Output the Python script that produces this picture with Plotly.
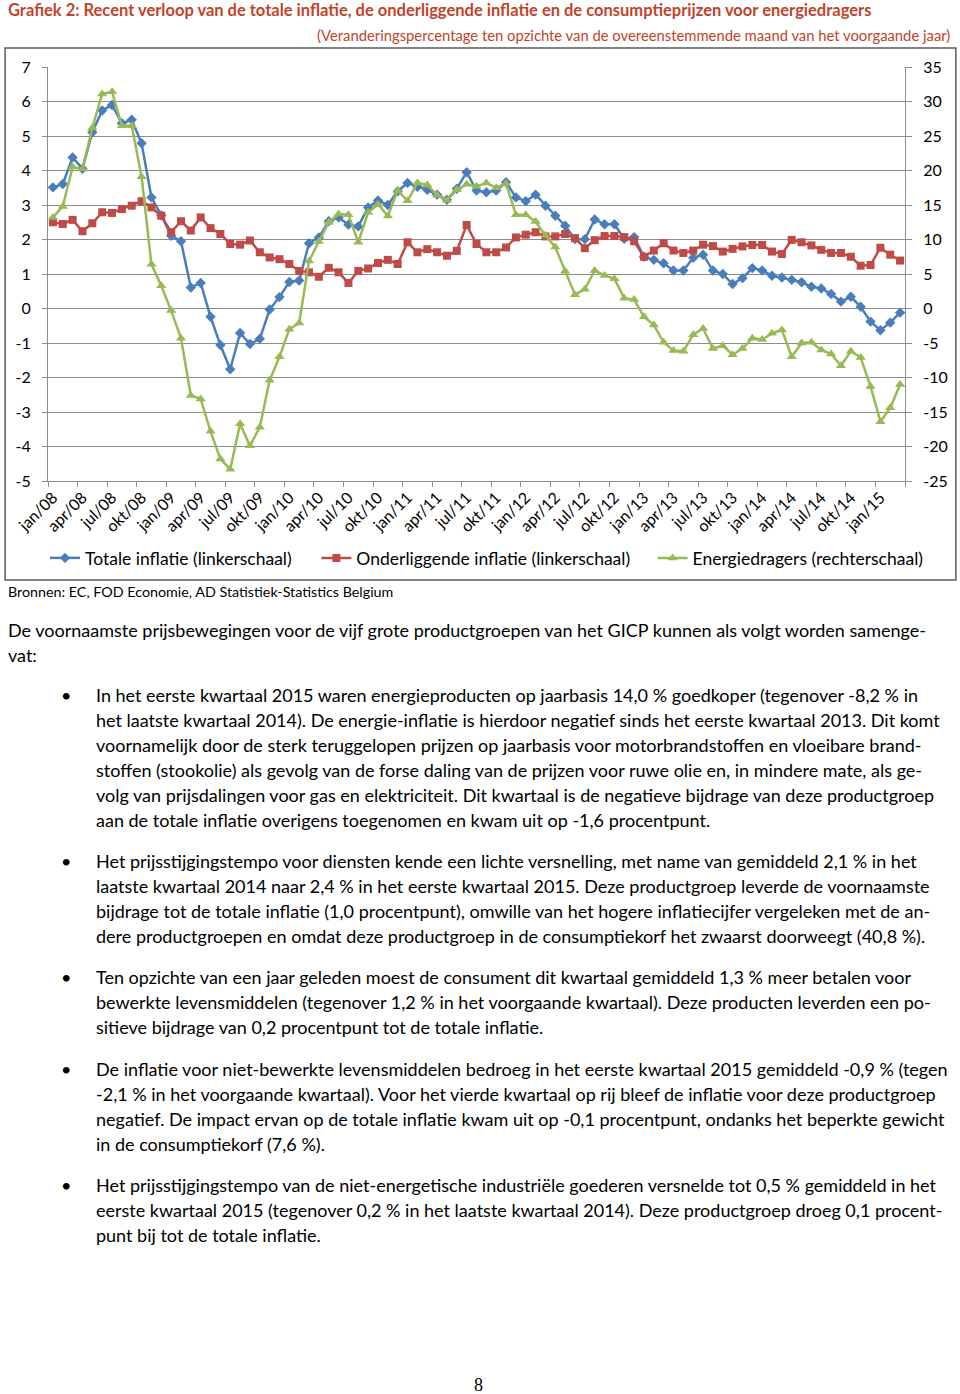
import plotly.graph_objects as go

# ---------------- data ----------------
maanden_nl = ["jan", "feb", "mrt", "apr", "mei", "jun", "jul", "aug", "sep", "okt", "nov", "dec"]
months = [f"{maanden_nl[m]}/{y:02d}" for y in range(8, 16) for m in range(12)][:87]

tick_labels = ["jan/08", "apr/08", "jul/08", "okt/08", "jan/09", "apr/09", "jul/09", "okt/09",
               "jan/10", "apr/10", "jul/10", "okt/10", "jan/11", "apr/11", "jul/11", "okt/11",
               "jan/12", "apr/12", "jul/12", "okt/12", "jan/13", "apr/13", "jul/13", "okt/13",
               "jan/14", "apr/14", "jul/14", "okt/14", "jan/15"]

totale_inflatie = [3.51, 3.61, 4.38, 4.05, 5.11, 5.74, 5.90, 5.37, 5.47, 4.79, 3.22, 2.70,
                   2.11, 1.95, 0.61, 0.74, -0.24, -1.06, -1.76, -0.71, -1.03, -0.88, -0.03, 0.33,
                   0.77, 0.81, 1.89, 2.06, 2.53, 2.64, 2.43, 2.38, 2.93, 3.13, 3.00, 3.40,
                   3.64, 3.53, 3.44, 3.30, 3.15, 3.47, 3.95, 3.42, 3.37, 3.42, 3.66, 3.22,
                   3.11, 3.30, 2.98, 2.69, 2.40, 2.01, 2.01, 2.58, 2.44, 2.44, 2.02, 2.07,
                   1.50, 1.41, 1.31, 1.10, 1.10, 1.47, 1.56, 1.10, 1.00, 0.71, 0.88, 1.17,
                   1.10, 0.95, 0.90, 0.83, 0.76, 0.63, 0.58, 0.42, 0.20, 0.34, 0.05, -0.38,
                   -0.63, -0.41, -0.12]

onderliggende_inflatie = [2.50, 2.45, 2.57, 2.24, 2.47, 2.79, 2.77, 2.88, 2.98, 3.11, 2.93, 2.69,
                          2.21, 2.53, 2.26, 2.64, 2.33, 2.16, 1.87, 1.85, 1.97, 1.63, 1.48, 1.43,
                          1.29, 1.09, 1.05, 0.92, 1.18, 1.05, 0.74, 1.09, 1.16, 1.32, 1.41, 1.29,
                          1.92, 1.63, 1.72, 1.63, 1.53, 1.67, 2.42, 1.87, 1.63, 1.63, 1.77, 2.06,
                          2.14, 2.21, 2.09, 2.09, 2.16, 2.04, 1.75, 1.98, 2.10, 2.10, 2.07, 1.95,
                          1.50, 1.68, 1.89, 1.68, 1.61, 1.68, 1.85, 1.81, 1.65, 1.73, 1.80, 1.84,
                          1.84, 1.65, 1.58, 1.99, 1.92, 1.83, 1.70, 1.61, 1.61, 1.50, 1.24, 1.26,
                          1.76, 1.56, 1.39]

energiedragers = [13.2, 14.8, 20.5, 20.2, 26.2, 31.1, 31.4, 26.5, 26.5, 19.1, 6.4, 3.3,
                  -0.3, -4.3, -12.6, -13.1, -17.8, -21.8, -23.3, -16.7, -19.9, -17.2, -10.4, -7.0,
                  -3.0, -2.1, 6.9, 9.7, 12.5, 13.7, 13.6, 9.6, 13.9, 15.1, 13.4, 17.1,
                  15.6, 18.2, 17.9, 16.4, 15.7, 17.2, 18.0, 17.7, 18.2, 17.5, 18.1, 13.6,
                  13.6, 12.6, 10.6, 8.9, 5.4, 2.0, 2.8, 5.5, 4.8, 4.3, 1.5, 1.3,
                  -1.2, -2.4, -4.9, -6.1, -6.2, -3.8, -2.9, -5.8, -5.4, -6.7, -5.8, -4.3,
                  -4.5, -3.6, -3.1, -7.0, -5.0, -4.9, -6.0, -6.6, -8.3, -6.2, -7.1, -11.3,
                  -16.4, -14.4, -11.0]

left_ticks = [7, 6, 5, 4, 3, 2, 1, 0, -1, -2, -3, -4, -5]
right_ticks = [35, 30, 25, 20, 15, 10, 5, 0, -5, -10, -15, -20, -25]

title = "Grafiek 2: Recent verloop van de totale inflatie, de onderliggende inflatie en de consumptieprijzen voor energiedragers"
subtitle = "(Veranderingspercentage ten opzichte van de overeenstemmende maand van het voorgaande jaar)"
bron = "Bronnen: EC, FOD Economie, AD Statistiek-Statistics Belgium"

intro_lines = [
    "De voornaamste prijsbewegingen voor de vijf grote productgroepen van het GICP kunnen als volgt worden samenge-",
    "vat:",
]
bullets = [
    ["In het eerste kwartaal 2015 waren energieproducten op jaarbasis 14,0 % goedkoper (tegenover -8,2 % in",
     "het laatste kwartaal 2014). De energie-inflatie is hierdoor negatief sinds het eerste kwartaal 2013. Dit komt",
     "voornamelijk door de sterk teruggelopen prijzen op jaarbasis voor motorbrandstoffen en vloeibare brand-",
     "stoffen (stookolie) als gevolg van de forse daling van de prijzen voor ruwe olie en, in mindere mate, als ge-",
     "volg van prijsdalingen voor gas en elektriciteit. Dit kwartaal is de negatieve bijdrage van deze productgroep",
     "aan de totale inflatie overigens toegenomen en kwam uit op -1,6 procentpunt."],
    ["Het prijsstijgingstempo voor diensten kende een lichte versnelling, met name van gemiddeld 2,1 % in het",
     "laatste kwartaal 2014 naar 2,4 % in het eerste kwartaal 2015. Deze productgroep leverde de voornaamste",
     "bijdrage tot de totale inflatie (1,0 procentpunt), omwille van het hogere inflatiecijfer vergeleken met de an-",
     "dere productgroepen en omdat deze productgroep in de consumptiekorf het zwaarst doorweegt (40,8 %)."],
    ["Ten opzichte van een jaar geleden moest de consument dit kwartaal gemiddeld 1,3 % meer betalen voor",
     "bewerkte levensmiddelen (tegenover 1,2 % in het voorgaande kwartaal). Deze producten leverden een po-",
     "sitieve bijdrage van 0,2 procentpunt tot de totale inflatie."],
    ["De inflatie voor niet-bewerkte levensmiddelen bedroeg in het eerste kwartaal 2015 gemiddeld -0,9 % (tegen",
     "-2,1 % in het voorgaande kwartaal). Voor het vierde kwartaal op rij bleef de inflatie voor deze productgroep",
     "negatief. De impact ervan op de totale inflatie kwam uit op -0,1 procentpunt, ondanks het beperkte gewicht",
     "in de consumptiekorf (7,6 %)."],
    ["Het prijsstijgingstempo van de niet-energetische industriële goederen versnelde tot 0,5 % gemiddeld in het",
     "eerste kwartaal 2015 (tegenover 0,2 % in het laatste kwartaal 2014). Deze productgroep droeg 0,1 procent-",
     "punt bij tot de totale inflatie."],
]
bullet_tops = [695, 861, 977, 1069, 1185]
page_number = "8"

# ---------------- layout helpers ----------------
W, H = 960, 1394
PL, PR, PT, PB = 48, 907, 67, 481
FONT = "Lato, Carlito, Calibri, sans-serif"
TITLE_COLOR = "#C0432B"
GRID = "#8C8C8C"


def px_x(px):
    return (px - PL) / (PR - PL)


def px_y(py):
    return (PB - py) / (PB - PT)


x_idx = list(range(len(months)))
n = len(months)

fig = go.Figure()
fig.add_trace(go.Scatter(
    x=x_idx, y=totale_inflatie, name="Totale inflatie (linkerschaal)", text=months,
    mode="lines+markers", line=dict(color="#4A7EBB", width=2.5),
    marker=dict(symbol="diamond", size=8, color="#4A7EBB"), legend="legend"))
fig.add_trace(go.Scatter(
    x=x_idx, y=onderliggende_inflatie, name="Onderliggende inflatie (linkerschaal)", text=months,
    mode="lines+markers", line=dict(color="#BE4B48", width=2.5),
    marker=dict(symbol="square", size=8, color="#BE4B48"), legend="legend2"))
fig.add_trace(go.Scatter(
    x=x_idx, y=energiedragers, name="Energiedragers (rechterschaal)", text=months,
    mode="lines+markers", line=dict(color="#98B954", width=2.5), yaxis="y2",
    marker=dict(symbol="triangle-up", size=9, color="#98B954"), legend="legend3"))
# helper trace so the tick-mark axis is drawn
fig.add_trace(go.Scatter(x=[-0.5], y=[None], xaxis="x2", showlegend=False, hoverinfo="skip"))

tick_font = dict(family=FONT, size=16, color="#000000")
legend_font = dict(family=FONT, size=17.5, color="#000000")

fig.update_layout(
    width=W, height=H, autosize=False,
    margin=dict(l=PL, r=W - PR, t=PT, b=H - PB, pad=0),
    paper_bgcolor="white", plot_bgcolor="white",
    font=dict(family=FONT, color="#000000"),
    xaxis=dict(range=[-0.5, n - 0.5], tickmode="array",
               tickvals=x_idx[::3], ticktext=tick_labels, tickangle=-45,
               ticks="", showgrid=False, zeroline=False, showline=True,
               linecolor=GRID, linewidth=1, tickfont=tick_font),
    xaxis2=dict(range=[-0.5, n - 0.5], overlaying="x", anchor="y", side="bottom",
                tickmode="array", tickvals=[i - 0.5 for i in range(0, n + 1, 3)],
                ticks="outside", ticklen=5, tickcolor=GRID, showticklabels=False,
                showgrid=False, zeroline=False, showline=False),
    yaxis=dict(range=[-5, 7], tickmode="array", tickvals=left_ticks,
               ticktext=[str(v) for v in left_ticks], showgrid=True, gridcolor=GRID,
               gridwidth=1, zeroline=False, showline=True, linecolor=GRID,
               ticks="outside", ticklen=5, tickcolor=GRID, tickfont=tick_font,
               ticklabelstandoff=8),
    yaxis2=dict(range=[-25, 35], overlaying="y", side="right", tickmode="array",
                tickvals=right_ticks, ticktext=[str(v) for v in right_ticks],
                showgrid=False, zeroline=False, showline=True, linecolor=GRID,
                ticks="outside", ticklen=6, tickcolor=GRID, tickfont=tick_font,
                ticklabelstandoff=8),
    legend=dict(x=px_x(45), y=px_y(558), xanchor="left", yanchor="middle",
                orientation="h", bgcolor="rgba(0,0,0,0)", font=legend_font),
    legend2=dict(x=px_x(317), y=px_y(558), xanchor="left", yanchor="middle",
                 orientation="h", bgcolor="rgba(0,0,0,0)", font=legend_font),
    legend3=dict(x=px_x(654), y=px_y(558), xanchor="left", yanchor="middle",
                 orientation="h", bgcolor="rgba(0,0,0,0)", font=legend_font),
    showlegend=True,
)

shapes = [dict(type="rect", xref="paper", yref="paper",
               x0=px_x(5), x1=px_x(958), y0=px_y(580), y1=px_y(48),
               line=dict(color="#5A5A5A", width=1.5), fillcolor="rgba(0,0,0,0)", layer="below")]
fig.update_layout(shapes=shapes)

annotations = []


def text_at(txt, x, y, size, color="#000000", anchor="left", bold=False, family=FONT):
    annotations.append(dict(
        text=f"<b>{txt}</b>" if bold else txt, xref="paper", yref="paper",
        x=px_x(x), y=px_y(y), xanchor=anchor, yanchor="middle", showarrow=False,
        font=dict(family=family, size=size, color=color), borderpad=0))


text_at(title, 7, 10, 16.5, TITLE_COLOR, bold=True)
text_at(subtitle, 953, 35, 14.8, TITLE_COLOR, anchor="right")
text_at(bron, 7, 591, 14.3)

BODY = 18
LH = 25
for k, line in enumerate(intro_lines):
    text_at(line, 7, 630 + k * LH, BODY)
for top, lines in zip(bullet_tops, bullets):
    text_at("•", 66, top, BODY, anchor="center")
    for k, line in enumerate(lines):
        text_at(line, 95, top + k * LH, BODY)

text_at(page_number, 480, 1385, 18, anchor="center", family="Liberation Serif, DejaVu Serif, serif")

fig.update_layout(annotations=annotations)

fig.write_html("out.html", config={"displayModeBar": False},
               post_script="document.body.style.margin='0';")
